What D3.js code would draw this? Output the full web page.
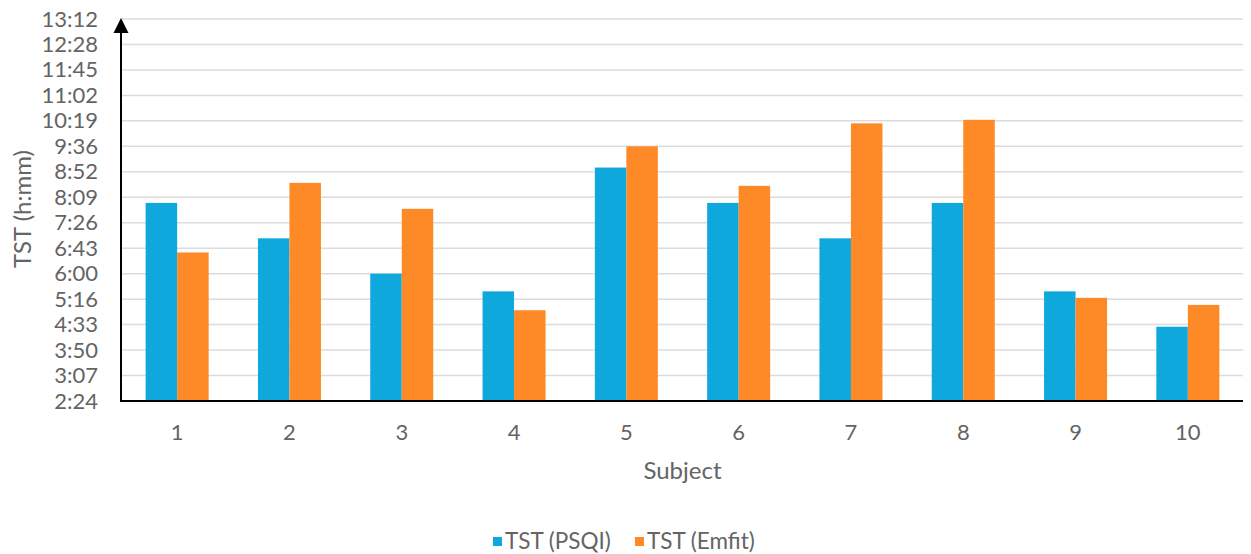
<!DOCTYPE html>
<html>
<head>
<meta charset="utf-8">
<script src="https://cdn.jsdelivr.net/npm/d3@7/dist/d3.min.js"></script>
<style>
  html, body { margin: 0; padding: 0; background: #ffffff; }
  svg { display: block; font-family: Lato, "Open Sans", sans-serif; }
</style>
</head>
<body>
<svg id="chart" width="1251" height="554"></svg>
<script>
// Total sleep time per subject, in minutes
const subjects = ["1", "2", "3", "4", "5", "6", "7", "8", "9", "10"];
const seriesNames = ["TST (PSQI)", "TST (Emfit)"];
const tstPSQI  = [480, 420, 360, 330, 540, 480, 420, 480, 330, 270];
const tstEmfit = [396, 514, 470, 298, 576, 509, 615, 621, 319, 307];
// Y axis ticks (minutes) and their h:mm labels
const yTicks = [144, 187.2, 230.4, 273.6, 316.8, 360, 403.2, 446.4, 489.6, 532.8, 576, 619.2, 662.4, 705.6, 748.8, 792];
const yTickLabels = ["2:24", "3:07", "3:50", "4:33", "5:16", "6:00", "6:43", "7:26", "8:09", "8:52", "9:36", "10:19", "11:02", "11:45", "12:28", "13:12"];
const colors = ["#0ea8dc", "#fd8a27"];
const textColor = "#646464";

const svg = d3.select("#chart");
const plotLeft = 121, plotRight = 1244, plotTop = 19, plotBottom = 401;

const x = d3.scaleBand().domain(subjects).range([plotLeft, plotRight]).paddingInner(0.439).paddingOuter(0.2195);
const xs = d3.scaleBand().domain(seriesNames).range([0, x.bandwidth()]);
const y = d3.scaleLinear().domain([yTicks[0], yTicks[yTicks.length - 1]]).range([plotBottom, plotTop]);

// horizontal gridlines
svg.append("g")
  .selectAll("line")
  .data(yTicks)
  .join("line")
  .attr("x1", plotLeft).attr("x2", plotRight - 1)
  .attr("y1", d => y(d)).attr("y2", d => y(d))
  .attr("stroke", "#dcdcdc").attr("stroke-width", 1.5);

// y tick labels
const yAxis = d3.axisLeft(y)
  .tickValues(yTicks)
  .tickFormat((d, i) => yTickLabels[i])
  .tickSize(0).tickPadding(0);
const gy = svg.append("g").attr("transform", "translate(98,0)").call(yAxis);
gy.select(".domain").remove();
gy.selectAll("text").attr("fill", textColor).style("font-size", "22px").attr("font-family", "Lato, 'Open Sans', sans-serif");

// bars
const rows = subjects.map((s, i) => ({ subject: s, values: [tstPSQI[i], tstEmfit[i]] }));
svg.append("g")
  .selectAll("g")
  .data(rows)
  .join("g")
  .attr("transform", d => `translate(${x(d.subject)},0)`)
  .selectAll("rect")
  .data(d => d.values.map((v, k) => ({ name: seriesNames[k], value: v, k })))
  .join("rect")
  .attr("x", d => xs(d.name))
  .attr("width", xs.bandwidth())
  .attr("y", d => y(d.value))
  .attr("height", d => y(yTicks[0]) - y(d.value))
  .attr("fill", d => colors[d.k]);

// x axis baseline and labels
const xAxis = d3.axisBottom(x).tickSize(0).tickPadding(0);
const gx = svg.append("g").attr("transform", `translate(0,${plotBottom})`).call(xAxis);
gx.select(".domain").remove();
gx.selectAll("text").attr("fill", textColor).style("font-size", "22px")
  .attr("font-family", "Lato, 'Open Sans', sans-serif")
  .attr("dy", "0").attr("y", 39);
svg.append("line")
  .attr("x1", plotLeft).attr("x2", plotRight - 1)
  .attr("y1", plotBottom).attr("y2", plotBottom)
  .attr("stroke", "#000").attr("stroke-width", 2);

// y axis with arrowhead
svg.append("line")
  .attr("x1", plotLeft).attr("x2", plotLeft)
  .attr("y1", plotBottom + 1).attr("y2", plotTop + 10)
  .attr("stroke", "#000").attr("stroke-width", 2);
svg.append("path")
  .attr("d", `M${plotLeft},${plotTop - 1} L${plotLeft + 7.5},${plotTop + 14} L${plotLeft - 7.5},${plotTop + 14} Z`)
  .attr("fill", "#000");

// axis titles
svg.append("text")
  .attr("transform", "translate(31,209) rotate(-90)")
  .attr("text-anchor", "middle")
  .attr("fill", textColor).style("font-size", "24px")
  .text("TST (h:mm)");
svg.append("text")
  .attr("x", (plotLeft + plotRight) / 2).attr("y", 479)
  .attr("text-anchor", "middle")
  .attr("fill", textColor).style("font-size", "24px")
  .text("Subject");

// legend
const legendItems = [{ name: seriesNames[0], x: 493 }, { name: seriesNames[1], x: 635 }];
const lg = svg.append("g").selectAll("g").data(legendItems).join("g")
  .attr("transform", d => `translate(${d.x},537)`);
lg.append("rect").attr("width", 9).attr("height", 9)
  .attr("fill", (d, i) => colors[i]);
lg.append("text").attr("x", 12).attr("y", 12)
  .attr("fill", textColor).style("font-size", "22.5px")
  .text(d => d.name);
</script>
</body>
</html>
